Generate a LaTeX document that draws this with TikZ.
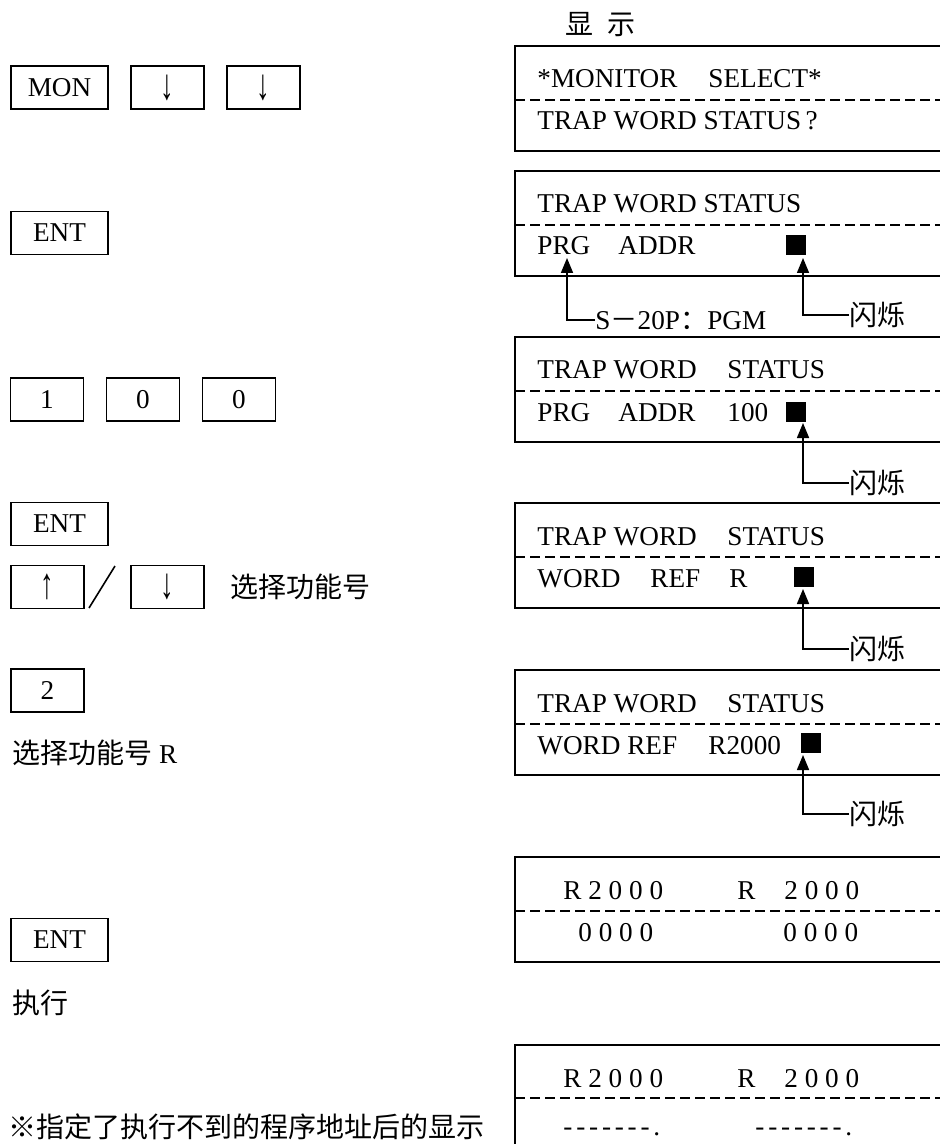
\documentclass[tikz,border=0pt]{standalone}
\usepackage{fontspec}
\usepackage{graphicx}
\setmainfont{Liberation Serif}
\newfontfamily\cjk{Noto Sans CJK SC}
\newfontfamily\spaced[LetterSpace=25]{Liberation Serif}
\newfontfamily\dotrow[LetterSpace=14,Ligatures=TeXOff]{Liberation Serif}
\newcommand\keydn{\scalebox{1}[1.6]{↓}}
\newcommand\keyup{\scalebox{1}[1.6]{↑}}
\usetikzlibrary{arrows.meta, positioning}

\tikzset{
  keybox/.style={draw, line width=0.8pt, minimum height=21.5pt, inner sep=0pt},
  widekey/.style={keybox, minimum width=48.5pt},
  smallkey/.style={keybox, minimum width=36.5pt},
  lcd/.style={line width=1pt},
  sep/.style={line width=0.8pt, dash pattern=on 5pt off 2.5pt},
  txt/.style={anchor=base west, inner sep=0pt},
  zh/.style={anchor=west, inner sep=0pt, font=\fontsize{14}{16}\selectfont\cjk},
  cursor/.style={fill, minimum size=10pt, inner sep=0pt},
  arr/.style={line width=0.8pt, -{Triangle[length=7.5pt,width=6pt]}}
}

\begin{document}
\begin{tikzpicture}[x=0.5pt, y=-0.5pt, font=\fontsize{13.6}{16}\selectfont]
  \useasboundingbox (0,0) rectangle (940,1144);
  % keys
  \node[widekey] (mon) at (59.5,87.5) {MON};
  \node[smallkey] (dn1) at (167.5,87.5) {\keydn};
  \node[smallkey] (dn2) at (263.5,87.5) {\keydn};
  \node[widekey] (ent1) at (59.5,233) {ENT};
  \node[smallkey] (k1) at (47,399.5) {1};
  \node[smallkey] (k0a) at (143,399.5) {0};
  \node[smallkey] (k0b) at (239,399.5) {0};
  \node[widekey] (ent2) at (59.5,524) {ENT};
  \node[smallkey] (up) at (47.5,587) {\keyup};
  \draw[line width=0.8pt] (89,608) -- (115,566);
  \node[smallkey] (dn3) at (167.5,587) {\keydn};
  \node[zh] (sel) at (230,587) {选择功能号};
  \node[smallkey] (k2) at (47.5,690.5) {2};
  \node[anchor=west, inner sep=0pt] (selr) at (12,753) {{\fontsize{14}{16}\cjk 选择功能号} R};
  \node[widekey] (ent3) at (59.5,940) {ENT};
  \node[zh] (run) at (12,1003) {执行};
  \node[zh] (note) at (8,1127) {※指定了执行不到的程序地址后的显示};

  % displays
  \node[zh] (disp) at (565,25) {显\hspace{7pt}示};

  \draw[lcd] (515,46) rectangle (960,151);
  \draw[sep] (515,100) -- (960,100);
  \node[txt] (a1) at (537,88) {*MONITOR};
  \node[txt] (a2) at (708,88) {SELECT*};
  \node[txt] (a3) at (537,130) {TRAP WORD STATUS\,?};

  \draw[lcd] (515,171) rectangle (960,276);
  \draw[sep] (515,225) -- (960,225);
  \node[txt] (b1) at (537,213) {TRAP WORD STATUS};
  \node[txt] (b2) at (537,255) {PRG};
  \node[txt] (b3) at (618,255) {ADDR};
  \node[cursor] (c2) at (796,245) {};
  \coordinate (t2a) at (567,258);
  \coordinate (t2b) at (803,258);
  \node[txt] (pgm) at (595,329) {S{\cjk －}20P{\cjk ：}PGM};
  \node[zh] (f2) at (849,315) {闪烁};
  \draw[arr] (pgm.west) -| (t2a);
  \draw[arr] (f2.west) -| (t2b);

  \draw[lcd] (515,337) rectangle (960,442);
  \draw[sep] (515,391) -- (960,391);
  \node[txt] (d1) at (537,379) {TRAP WORD};
  \node[txt] (d2) at (727,379) {STATUS};
  \node[txt] (d3) at (537,421) {PRG};
  \node[txt] (d4) at (618,421) {ADDR};
  \node[txt] (d5) at (727,421) {100};
  \node[cursor] (c3) at (796,411.5) {};
  \coordinate (t3) at (803,423);
  \node[zh] (f3) at (849,483) {闪烁};
  \draw[arr] (f3.west) -| (t3);

  \draw[lcd] (515,503) rectangle (960,608);
  \draw[sep] (515,557) -- (960,557);
  \node[txt] (g1) at (537,545) {TRAP WORD};
  \node[txt] (g2) at (727,545) {STATUS};
  \node[txt] (g3) at (537,587) {WORD};
  \node[txt] (g4) at (650,587) {REF};
  \node[txt] (g5) at (729,587) {R};
  \node[cursor] (c4) at (804,577) {};
  \coordinate (t4) at (803,589);
  \node[zh] (f4) at (849,649) {闪烁};
  \draw[arr] (f4.west) -| (t4);

  \draw[lcd] (515,670) rectangle (960,775);
  \draw[sep] (515,724) -- (960,724);
  \node[txt] (h1) at (537,712) {TRAP WORD};
  \node[txt] (h2) at (727,712) {STATUS};
  \node[txt] (h3) at (537,754) {WORD REF};
  \node[txt] (h4) at (708,754) {R2000};
  \node[cursor] (c5) at (811,743) {};
  \coordinate (t5) at (803,755);
  \node[zh] (f5) at (849,814) {闪烁};
  \draw[arr] (f5.west) -| (t5);

  \draw[lcd] (515,857) rectangle (960,962);
  \draw[sep] (515,911) -- (960,911);
  \node[txt] (r1) at (563,899) {\spaced R2000};
  \node[txt] (r2) at (737,899) {\spaced R};
  \node[txt] (r3) at (784,899) {\spaced 2000};
  \node[txt] (r4) at (578,941) {\spaced 0000};
  \node[txt] (r5) at (783,941) {\spaced 0000};

  \draw[lcd] (515,1045) rectangle (960,1160);
  \draw[sep] (515,1098) -- (960,1098);
  \node[txt] (s1) at (563,1087) {\spaced R2000};
  \node[txt] (s2) at (737,1087) {\spaced R};
  \node[txt] (s3) at (784,1087) {\spaced 2000};
  \node[txt] (s4) at (563,1135) {\dotrow -------.};
  \node[txt] (s5) at (755,1135) {\dotrow -------.};
\end{tikzpicture}
\end{document}
